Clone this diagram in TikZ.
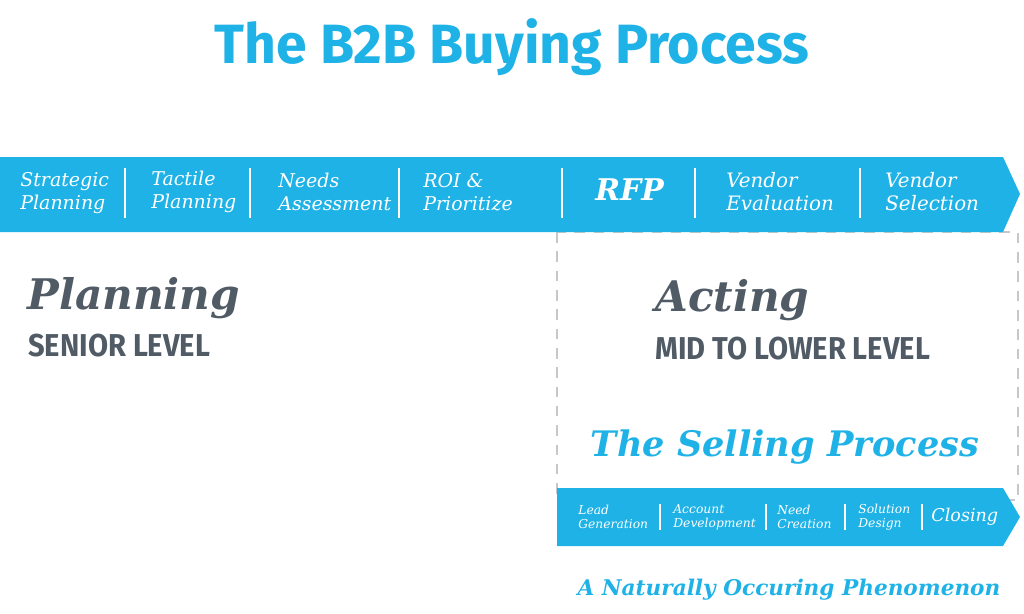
\documentclass[tikz,border=0pt]{standalone}
\usepackage{fontspec}
\setmainfont{DejaVu Serif}
\newfontfamily\cond[FakeStretch=0.92]{Fira Sans}
\newfontfamily\titrefont{Fira Sans}
\definecolor{bleu}{RGB}{31,178,230}
\definecolor{ardoise}{RGB}{80,91,102}
\newcommand{\separateur}[3]{\draw[white, line width=1.6pt] (#1, #2) -- (#1, #3);}
\tikzset { etiquette/.style 2 args={anchor=west, align=left, inner sep=0pt, text=white,
  font=\itshape\fontsize{#1}{#2}\selectfont} }

\begin{document}
\begin{tikzpicture}[x=0.02cm, y=-0.02cm]
  \useasboundingbox (0, 0) rectangle (1024, 613);
  \node[text=bleu, font=\titrefont\bfseries\fontsize{31.5}{31.5}\selectfont] (titre) at (512, 47) {The B2B Buying Process};
  % cadre en pointilles
  \draw[black!22, line width=1.2pt, dash pattern=on 6pt off 5pt] (557, 232) rectangle (1018, 500);
  % bandeau du haut
  \fill[bleu] (0, 157) -- (1003, 157) -- (1020, 194) -- (1003, 232) -- (0, 232) -- cycle;
  \foreach \x in {125, 250, 399, 562, 695, 860} {\separateur{\x}{168}{218}}
  \node[etiquette={10.8}{13}] (strat) at (20, 193) {Strategic\\Planning};
  \node[etiquette={10.8}{13}] (tact) at (151, 192) {Tactile\\Planning};
  \node[etiquette={10.8}{13}] (besoins) at (278, 192) {Needs\\Assessment};
  \node[etiquette={10.8}{13}] (roi) at (423, 192) {ROI \&\\Prioritize};
  \node[etiquette={17}{17}, font=\bfseries\itshape\fontsize{17}{17}\selectfont] (rfp) at (595, 190) {RFP};
  \node[etiquette={11.3}{13}] (evaluation) at (726, 192) {Vendor\\Evaluation};
  \node[etiquette={11.3}{13}] (selection) at (885, 192) {Vendor\\Selection};
  % niveaux
  \node[anchor=west, inner sep=0pt, text=ardoise, font=\bfseries\itshape\fontsize{24}{24}\selectfont] (planif) at (27, 298) {Planning};
  \node[anchor=west, inner sep=0pt, text=ardoise, font=\cond\bfseries\fontsize{18}{18}\selectfont] (senior) at (28, 346) {SENIOR LEVEL};
  \node[anchor=west, inner sep=0pt, text=ardoise, font=\bfseries\itshape\fontsize{24}{24}\selectfont] (action) at (655, 300) {Acting};
  \node[anchor=west, inner sep=0pt, text=ardoise, font=\cond\bfseries\fontsize{18}{18}\selectfont] (moyen) at (655, 349) {MID TO LOWER LEVEL};
  \node[text=bleu, inner sep=0pt, font=\bfseries\itshape\fontsize{20}{20}\selectfont] (vente) at (785, 447) {The Selling Process};
  % bandeau du bas
  \fill[bleu] (557, 488) -- (1003, 488) -- (1020, 517) -- (1003, 546) -- (557, 546) -- cycle;
  \foreach \x in {660, 766, 845, 922} {\separateur{\x}{504}{530}}
  \node[etiquette={7}{7.8}] (piste) at (578, 517) {Lead\\Generation};
  \node[etiquette={7}{7.8}] (compte) at (673, 517) {Account\\Development};
  \node[etiquette={7}{7.8}] (creation) at (777, 517) {Need\\Creation};
  \node[etiquette={7}{7.8}] (solution) at (858, 517) {Solution\\Design};
  \node[etiquette={10}{10}] (cloture) at (931, 517) {Closing};
  \node[text=bleu, inner sep=0pt, font=\bfseries\itshape\fontsize{12.3}{12.3}\selectfont] (phenomene) at (789, 590) {A Naturally Occuring Phenomenon};
\end{tikzpicture}
\end{document}
